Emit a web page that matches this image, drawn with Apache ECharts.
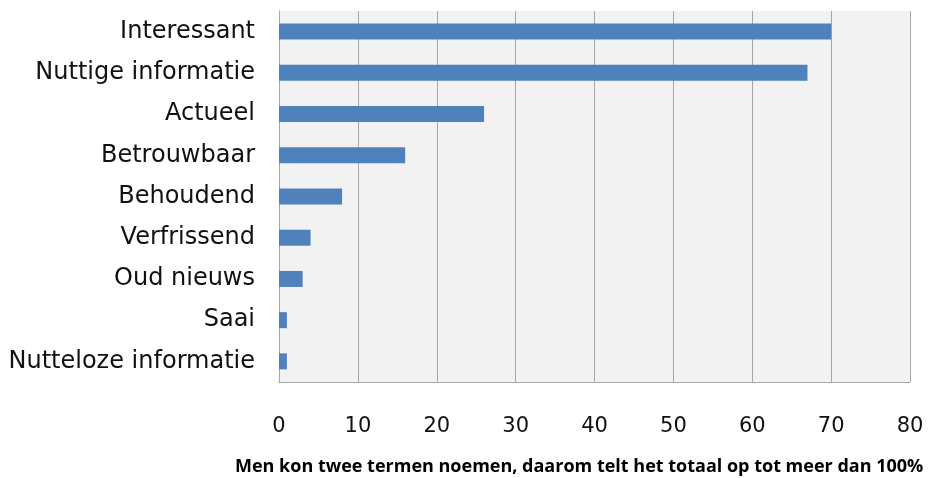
<!DOCTYPE html>
<html>
<head>
<meta charset="utf-8">
<script src="https://cdn.jsdelivr.net/npm/echarts@6/dist/echarts.min.js"></script>
<style>
  html, body { margin: 0; padding: 0; background: #fff; }
  #chartDom { width: 928px; height: 478px; }
</style>
</head>
<body>
<div id="chartDom"></div>
<script>
// categories from top to bottom
const categories = ["Interessant", "Nuttige informatie", "Actueel", "Betrouwbaar", "Behoudend", "Verfrissend", "Oud nieuws", "Saai", "Nutteloze informatie"];
const values = [70, 67, 26, 16, 8, 4, 3, 1, 1];
const caption = "Men kon twee termen noemen, daarom telt het totaal op tot meer dan 100%";

let myChart = echarts.init(document.getElementById("chartDom"));
myChart.setOption({
  animation: false,
  grid: {
    left: 279,
    right: 18,
    top: 11,
    bottom: 96,
    show: true,
    backgroundColor: "#f2f2f2",
    borderWidth: 0
  },
  xAxis: {
    type: "value",
    min: 0,
    max: 80,
    interval: 10,
    axisLine: { show: true, lineStyle: { color: "#a6a6a6", width: 1 } },
    axisTick: { show: false },
    splitLine: { show: true, lineStyle: { color: "#a6a6a6", width: 1 } },
    axisLabel: {
      margin: 34,
      color: "#111",
      fontFamily: "DejaVu Sans",
      fontSize: 21
    }
  },
  yAxis: {
    type: "category",
    data: categories,
    inverse: true,
    axisLine: { show: true, lineStyle: { color: "#a6a6a6", width: 1 } },
    axisTick: { show: false },
    axisLabel: {
      margin: 24,
      lineHeight: 28,
      padding: [6, 0, 0, 0],
      color: "#111",
      fontFamily: "DejaVu Sans",
      fontSize: 24
    }
  },
  series: [
    {
      type: "bar",
      data: values,
      barWidth: 16,
      itemStyle: { color: "#4f81bd" }
    }
  ],
  graphic: [
    {
      type: "text",
      x: 235,
      y: 467,
      style: {
        text: caption,
        fill: "#000",
        font: "bold 18px 'Open Sans'",
        verticalAlign: "middle"
      }
    }
  ]
});
</script>
</body>
</html>
